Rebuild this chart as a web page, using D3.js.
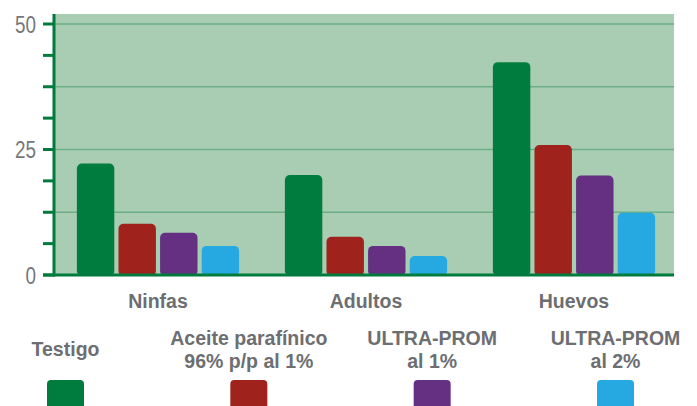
<!DOCTYPE html>
<html>
<head>
<meta charset="utf-8">
<script src="https://cdn.jsdelivr.net/npm/d3@7"></script>
<style>
  html, body { margin: 0; padding: 0; background: #ffffff; }
  svg { display: block; }
</style>
</head>
<body>
<svg id="chart" width="697" height="406"></svg>
<script>
// ---- data ----
const categories = ["Ninfas", "Adultos", "Huevos"];
const seriesNames = ["Testigo", "Aceite parafínico 96% p/p al 1%", "ULTRA-PROM al 1%", "ULTRA-PROM al 2%"];
const seriesLegendLines = [["Testigo"], ["Aceite parafínico", "96% p/p al 1%"], ["ULTRA-PROM", "al 1%"], ["ULTRA-PROM", "al 2%"]];
const testigo = [22.2, 19.9, 42.4];
const aceite = [10.2, 7.6, 25.9];
const ultra1 = [8.4, 5.8, 19.8];
const ultra2 = [5.8, 3.8, 12.4];
const seriesValues = [testigo, aceite, ultra1, ultra2];
const yTickLabels = [0, 25, 50];
const seriesColors = ["#007d3e", "#a0221c", "#652f82", "#26a8e0"];

// ---- layout ----
const svg = d3.select("#chart");
const plotLeft = 54, plotRight = 674, plotTop = 14, plotBottom = 275;

const y = d3.scaleLinear().domain([0, 50]).range([plotBottom, 24]);
const x0 = d3.scaleBand().domain(categories).range([plotLeft, 678]).padding(0);
const x1 = d3.scaleBand().domain(d3.range(seriesNames.length))
  .range([0, x0.bandwidth()]).paddingInner(0.1).paddingOuter(0.55);

// background
svg.append("rect")
  .attr("x", plotLeft).attr("y", plotTop)
  .attr("width", plotRight - plotLeft).attr("height", plotBottom - plotTop)
  .attr("fill", "#a8cdb3");

// gridlines every 12.5
const gridVals = d3.range(12.5, 50.01, 12.5);
svg.append("g").selectAll("line").data(gridVals).join("line")
  .attr("x1", plotLeft).attr("x2", plotRight)
  .attr("y1", d => y(d)).attr("y2", d => y(d))
  .attr("stroke", "#6cae86").attr("stroke-width", 1.5);

// bars
const groups = svg.append("g").selectAll("g").data(categories).join("g")
  .attr("transform", c => `translate(${x0(c)},0)`);
groups.selectAll("rect")
  .data((c, ci) => seriesValues.map((vals, si) => ({ si, v: vals[ci] })))
  .join("rect")
  .attr("x", d => x1(d.si))
  .attr("width", x1.bandwidth())
  .attr("y", d => y(d.v))
  .attr("height", d => y(0) - y(d.v) + 1)
  .attr("rx", 5).attr("ry", 5)
  .attr("fill", d => seriesColors[d.si]);

// y axis with minor ticks every 6.25
const axisColor = "#007a3d";
const minorTicks = d3.range(0, 50.01, 6.25);
svg.append("g").selectAll("line").data(minorTicks).join("line")
  .attr("x1", 43).attr("x2", plotLeft)
  .attr("y1", d => y(d)).attr("y2", d => y(d))
  .attr("stroke", axisColor).attr("stroke-width", 3);
svg.append("line")
  .attr("x1", plotLeft).attr("x2", plotLeft)
  .attr("y1", plotTop).attr("y2", plotBottom + 1.5)
  .attr("stroke", axisColor).attr("stroke-width", 3);
svg.append("line")
  .attr("x1", 43).attr("x2", plotRight)
  .attr("y1", plotBottom).attr("y2", plotBottom)
  .attr("stroke", axisColor).attr("stroke-width", 3);

// y tick labels
svg.append("g").selectAll("text").data(yTickLabels).join("text")
  .attr("x", 36).attr("y", d => y(d) + 8.5)
  .attr("text-anchor", "end")
  .attr("font-family", "Liberation Sans, Arial, sans-serif")
  .attr("font-size", 23)
  .attr("fill", "#76777a")
  .attr("textLength", d => String(d).length * 10.5)
  .attr("lengthAdjust", "spacingAndGlyphs")
  .text(d => d);

// category labels
svg.append("g").selectAll("text").data(categories).join("text")
  .attr("x", c => x0(c) + x0.bandwidth() / 2)
  .attr("y", 308)
  .attr("text-anchor", "middle")
  .attr("font-family", "Liberation Sans, Arial, sans-serif")
  .attr("font-weight", "bold")
  .attr("font-size", 19.5)
  .attr("fill", "#6d6e71")
  .text(c => c);

// legend
const lx = d3.scalePoint().domain(d3.range(seriesNames.length)).range([65.5, 615.5]);
const leg = svg.append("g").selectAll("g").data(seriesNames.map((n, i) => i)).join("g")
  .attr("transform", i => `translate(${lx(i)},0)`);
leg.append("rect")
  .attr("x", -18.5).attr("y", 380).attr("width", 37).attr("height", 34)
  .attr("rx", 4).attr("fill", i => seriesColors[i]);
leg.each(function(i) {
  const lines = seriesLegendLines[i];
  const g = d3.select(this);
  const baselines = lines.length === 1 ? [356] : [345, 368];
  lines.forEach((ln, k) => {
    g.append("text")
      .attr("x", 0).attr("y", baselines[k])
      .attr("text-anchor", "middle")
      .attr("font-family", "Liberation Sans, Arial, sans-serif")
      .attr("font-weight", "bold")
      .attr("font-size", 19.5)
      .attr("fill", "#6d6e71")
      .text(ln);
  });
});
</script>
</body>
</html>
